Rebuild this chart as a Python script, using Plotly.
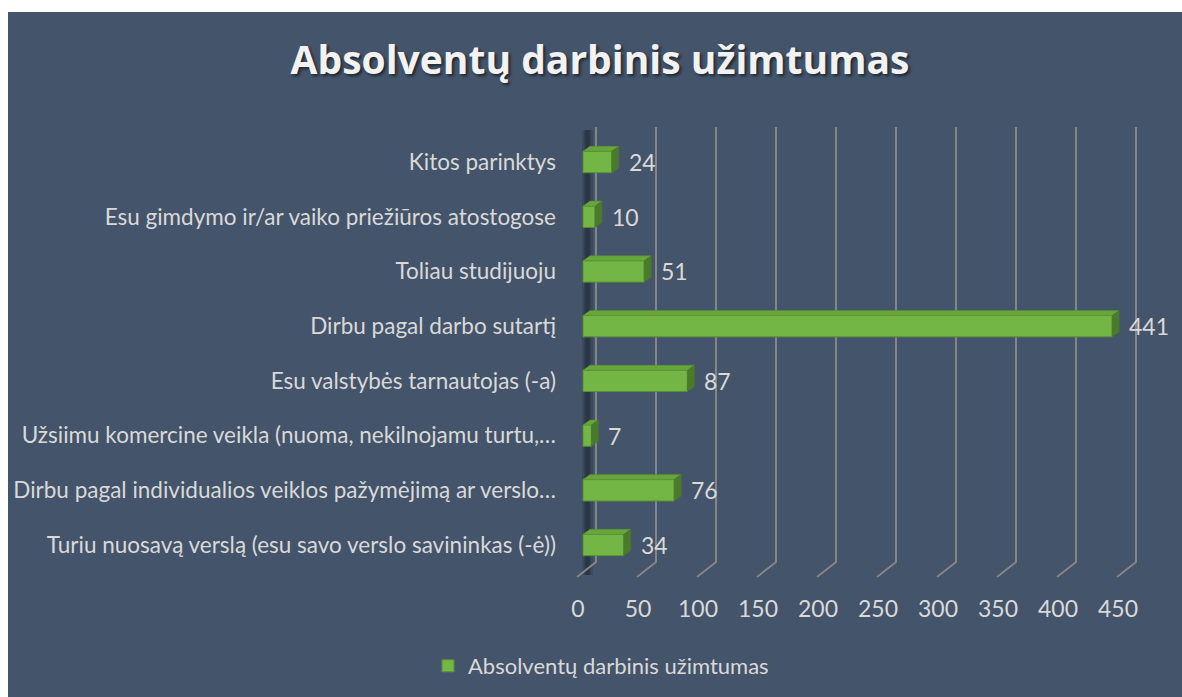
import plotly.graph_objects as go

# ---- data (bottom to top) ----
categories = [
    "Turiu nuosavą verslą (esu savo verslo savininkas (-ė))",
    "Dirbu pagal individualios veiklos pažymėjimą ar verslo…",
    "Užsiimu komercine veikla (nuoma, nekilnojamu turtu,…",
    "Esu valstybės tarnautojas (-a)",
    "Dirbu pagal darbo sutartį",
    "Toliau studijuoju",
    "Esu gimdymo ir/ar vaiko priežiūros atostogose",
    "Kitos parinktys",
]
values = [34, 76, 7, 87, 441, 51, 10, 24]
tick_vals = [0, 50, 100, 150, 200, 250, 300, 350, 400, 450]
series_name = "Absolventų darbinis užimtumas"
title_text = "Absolventų darbinis užimtumas"

# ---- layout geometry (pixels) ----
W, H = 1182, 697
L, R_ = 562, 1160       # plot area left/right px
T, B_ = 120, 593        # plot area top/bottom px
X0PX = 583.0            # px of value 0 (bar front)
PXU = 1.2               # px per unit
CAT0 = 545.0            # px of bottom category centre
CATSP = 54.71           # px per category

pw, ph = R_ - L, B_ - T
xr = [(L - X0PX) / PXU, (R_ - X0PX) / PXU]
yr = [(CAT0 - B_) / CATSP, (CAT0 - T) / CATSP]

def px_x(p):
    return (p - L) / pw

def px_y(p):
    return (B_ - p) / ph

BG = "#44546A"
TXT = "#d9d9d9"
GRID = "#858585"
FRONT = "#74b646"
TOP = "#66a63b"
SIDE = "#4a7a2b"
EDGE = "#5a8f34"
FONT = "Lato"

fig = go.Figure()
fig.add_trace(go.Bar(
    x=values, y=categories, orientation="h", width=0.39,
    marker=dict(color=FRONT, line=dict(color=EDGE, width=1)),
    name=series_name, showlegend=True, hoverinfo="x+y",
))

shapes = []
# white border strips (top 12px, left 8px)
shapes.append(dict(type="rect", xref="paper", yref="paper",
                   x0=px_x(0), x1=px_x(W), y0=px_y(0), y1=px_y(12),
                   fillcolor="white", line=dict(width=0), layer="below"))
shapes.append(dict(type="rect", xref="paper", yref="paper",
                   x0=px_x(0), x1=px_x(8), y0=px_y(0), y1=px_y(H),
                   fillcolor="white", line=dict(width=0), layer="below"))

# soft shadow strip on the back wall
for (a, b, op) in [(-1, 10, 0.12), (1, 8, 0.16), (2.5, 6.5, 0.2)]:
    shapes.append(dict(type="rect", xref="x", yref="paper",
                       xsizemode="pixel", xanchor=0,
                       x0=a, x1=b, y0=px_y(130), y1=px_y(575),
                       fillcolor=f"rgba(8,10,18,{op})", line=dict(width=0),
                       layer="below"))

# 3D gridlines: back vertical + slant to front
for v in tick_vals:
    shapes.append(dict(
        type="path", xref="x", yref="paper",
        xsizemode="pixel", xanchor=v, ysizemode="pixel", yanchor=0,
        path=f"M 13,{B_-127} L 13,{B_-562} L -6,{B_-577}",
        line=dict(color=GRID, width=2), layer="below"))

# 3D faces of bars
hh = 0.39 * CATSP / 2
dxu = 7 / PXU
dy = 5
for c, v in zip(categories, values):
    shapes.append(dict(
        type="path", xref="x", yref="y", ysizemode="pixel", yanchor=c,
        path=f"M 0,{hh} L {v},{hh} L {v+dxu},{hh+dy} L {dxu},{hh+dy} Z",
        fillcolor=TOP, line=dict(color=EDGE, width=0.5), layer="above"))
    shapes.append(dict(
        type="path", xref="x", yref="y", ysizemode="pixel", yanchor=c,
        path=f"M {v},{hh} L {v+dxu},{hh+dy} L {v+dxu},{-hh+dy} L {v},{-hh} Z",
        fillcolor=SIDE, line=dict(color=SIDE, width=0.5), layer="above"))

annotations = []
for c, v in zip(categories, values):
    annotations.append(dict(
        x=v, y=c, xref="x", yref="y", text=str(v), showarrow=False,
        xanchor="left", yanchor="middle", xshift=15, yshift=0,
        font=dict(family=FONT, size=23, color=TXT)))

fig.update_layout(
    width=W, height=H,
    margin=dict(l=L, r=W - R_, t=T, b=H - B_, pad=0, autoexpand=False),
    paper_bgcolor=BG, plot_bgcolor="rgba(0,0,0,0)",
    title=dict(text=f"<b>{title_text}</b>", x=600 / W, xref="container",
               y=1 - 60 / H, yref="container", xanchor="center", yanchor="middle",
               font=dict(family="Open Sans", size=39, color="#f2f2f2",
                         shadow="2px 2px 3px rgba(0,0,0,0.55)")),
    xaxis=dict(range=xr, tickvals=tick_vals, showgrid=False, zeroline=False,
               showline=False, ticks="", ticklabelshift=-5, ticklabelstandoff=0,
               automargin=False,
               tickfont=dict(family=FONT, size=23, color=TXT), fixedrange=True),
    yaxis=dict(type="category", categoryorder="array", categoryarray=categories,
               range=yr, showgrid=False, zeroline=False, showline=False, ticks="",
               ticklabelstandoff=5, automargin=False,
               tickfont=dict(family=FONT, size=22.5, color=TXT), fixedrange=True),
    legend=dict(orientation="h", x=px_x(428), xanchor="left",
                y=px_y(666), yanchor="middle",
                font=dict(family=FONT, size=22, color=TXT),
                bgcolor="rgba(0,0,0,0)"),
    shapes=shapes, annotations=annotations,
    bargap=0.6,
)

fig.write_html(
    "out.html",
    config={"displayModeBar": False},
    post_script=(
        "document.body.style.margin='0';"
        "document.body.style.overflow='hidden';"
        "document.documentElement.style.overflow='hidden';"
        "document.body.style.background='#44546A';"
        "document.documentElement.style.background='#44546A';"
    ),
)
